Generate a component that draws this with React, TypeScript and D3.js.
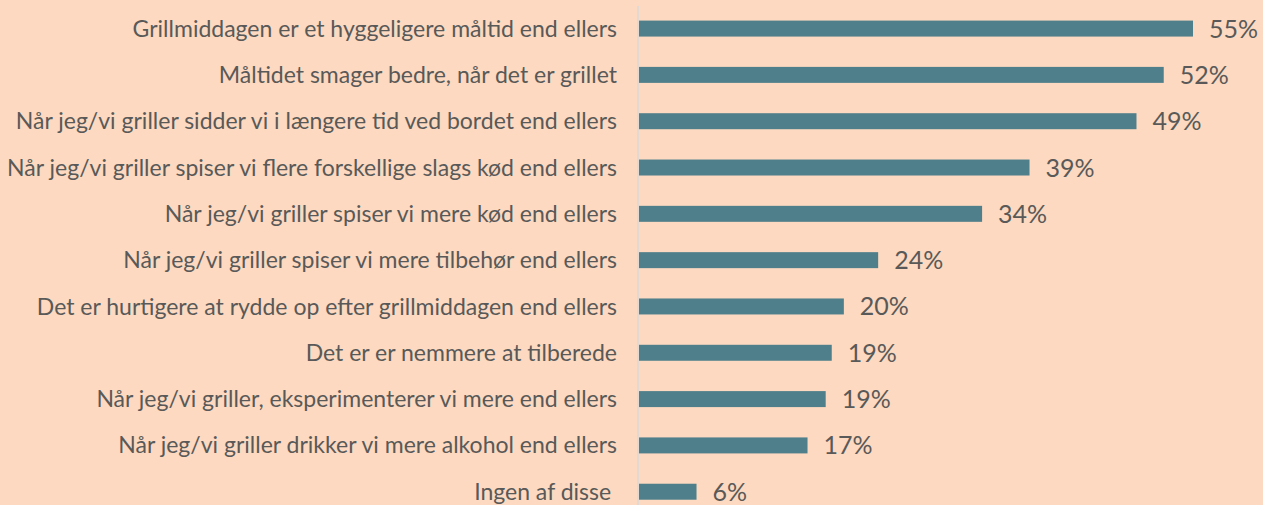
import React, { useEffect, useRef } from "react";
import * as d3 from "d3";

const categories = [
  "Grillmiddagen er et hyggeligere måltid end ellers",
  "Måltidet smager bedre, når det er grillet",
  "Når jeg/vi griller sidder vi i længere tid ved bordet end ellers",
  "Når jeg/vi griller spiser vi flere forskellige slags kød end ellers",
  "Når jeg/vi griller spiser vi mere kød end ellers",
  "Når jeg/vi griller spiser vi mere tilbehør end ellers",
  "Det er hurtigere at rydde op efter grillmiddagen end ellers",
  "Det er er nemmere at tilberede",
  "Når jeg/vi griller, eksperimenterer vi mere end ellers",
  "Når jeg/vi griller drikker vi mere alkohol end ellers",
  "Ingen af disse ",
];
const values = [54.9, 52.0, 49.3, 38.7, 34.0, 23.7, 20.3, 19.1, 18.5, 16.7, 5.7];
const labels = ["55%", "52%", "49%", "39%", "34%", "24%", "20%", "19%", "19%", "17%", "6%"];

const App = () => {
  const svgRef = useRef<SVGSVGElement>(null);

  useEffect(() => {
    const width = 1263;
    const height = 505;
    const axisX = 638;

    const svg = d3.select(svgRef.current);
    svg.selectAll("*").remove();
    svg.attr("width", width).attr("height", height);

    svg.append("rect")
      .attr("width", width)
      .attr("height", height)
      .attr("fill", "#FCD9C0");

    const x = d3.scaleLinear().domain([0, 55]).range([axisX + 1, axisX + 1 + 555]);
    const y = d3.scaleBand().domain(categories).range([5.3, 515]).paddingInner(0.655).paddingOuter(0.33);

    const rows = categories.map((c, i) => ({ c, v: values[i], l: labels[i] }));

    // bars
    svg.selectAll("rect.bar")
      .data(rows)
      .join("rect")
      .attr("class", "bar")
      .attr("x", x(0))
      .attr("y", d => y(d.c)!)
      .attr("width", d => x(d.v) - x(0))
      .attr("height", y.bandwidth())
      .attr("fill", "#4F7F8B");

    // axis line
    svg.append("line")
      .attr("x1", axisX).attr("x2", axisX)
      .attr("y1", 6).attr("y2", height)
      .attr("stroke", "#D9D9D9")
      .attr("stroke-width", 1.5);

    // category labels
    svg.selectAll("text.cat")
      .data(rows)
      .join("text")
      .attr("class", "cat")
      .attr("x", axisX - 21)
      .attr("y", d => y(d.c)! + y.bandwidth() / 2)
      .attr("dy", "0.35em")
      .attr("text-anchor", "end")
      .attr("fill", "#595959")
      .style("font-family", "Lato, sans-serif")
      .style("font-size", "23px")
      .style("white-space", "pre")
      .text(d => d.c);

    // value labels
    svg.selectAll("text.val")
      .data(rows)
      .join("text")
      .attr("class", "val")
      .attr("x", d => x(d.v) + 16)
      .attr("y", d => y(d.c)! + y.bandwidth() / 2)
      .attr("dy", "0.36em")
      .attr("fill", "#595959")
      .style("font-family", "Lato, sans-serif")
      .style("font-size", "25px")
      .text(d => d.l);
  }, []);

  return (
    <div style={{ position: "absolute", top: 0, left: 0 }}>
      <svg ref={svgRef} style={{ display: "block" }}></svg>
    </div>
  );
};

export default App;
